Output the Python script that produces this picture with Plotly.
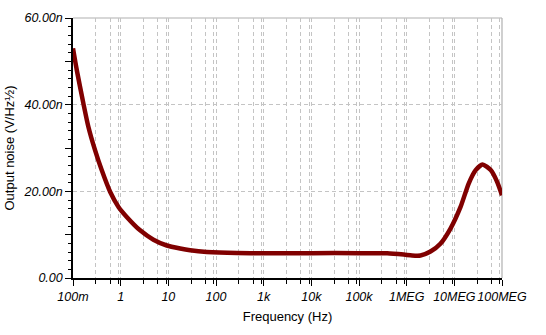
import plotly.graph_objects as go

# ---- data ----
freq_hz = [0.1, 0.12, 0.165, 0.21, 0.29, 0.40, 0.6, 0.9, 1.34, 2.56, 4.87, 9.3,
           17.7, 28.7, 64, 275, 1e3, 1e4, 1e5, 3.9e5, 8.7e5, 1.3e6, 1.95e6,
           3.16e6, 5.1e6, 8.3e6, 1.35e7, 2.0e7, 2.8e7, 3.9e7, 5.8e7, 7.9e7, 1e8]
noise_nv = [53.0, 48.0, 40.3, 34.9, 29.5, 24.9, 19.9, 16.4, 14.1, 11.0, 8.84, 7.5,
            6.8, 6.4, 6.0, 5.75, 5.74, 5.74, 5.74, 5.7, 5.4, 5.2, 5.2,
            6.1, 7.9, 11.4, 16.4, 21.8, 24.9, 26.2, 24.9, 22.2, 19.1]

x_tick_vals = [0.1, 1, 10, 100, 1e3, 1e4, 1e5, 1e6, 1e7, 1e8]
x_tick_text = ["100m", "1", "10", "100", "1k", "10k", "100k", "1MEG", "10MEG", "100MEG"]
y_tick_vals = [0, 10e-9, 20e-9, 30e-9, 40e-9, 50e-9, 60e-9]
y_tick_text = ["0.00", "", "20.00n", "", "40.00n", "", "60.00n"]
y_grid_vals = [20e-9, 40e-9]

noise = [v * 1e-9 for v in noise_nv]
x_minor = [m * d for d in [0.1, 1, 10, 100, 1e3, 1e4, 1e5, 1e6, 1e7] for m in (3, 6, 9)]

GRID = "#c4c4c4"
FONT = "Liberation Sans, Arial, sans-serif"

fig = go.Figure()
fig.add_trace(go.Scatter(x=freq_hz, y=noise, mode="lines",
                         line=dict(color="#800000", width=4.5, shape="spline", smoothing=0.6),
                         showlegend=False, hoverinfo="skip"))
# invisible trace for overlay axis
fig.add_trace(go.Scatter(x=[0.1], y=[0], yaxis="y2", mode="markers",
                         marker=dict(opacity=0), showlegend=False, hoverinfo="skip"))

fig.update_layout(
    width=546, height=335,
    margin=dict(l=73, r=44, t=18, b=57, autoexpand=False),
    paper_bgcolor="white", plot_bgcolor="white",
    font=dict(family=FONT, size=12, color="#000"),
    xaxis=dict(
        type="log", range=[-1, 8], automargin=False, tickangle=0,
        tickmode="array", tickvals=x_tick_vals, ticktext=x_tick_text,
        tickfont=dict(family=FONT, size=12.5, style="italic", color="#000"),
        ticks="outside", ticklen=6, tickwidth=1.3, tickcolor="#000",
        showline=True, linecolor="#000", linewidth=1.5,
        showgrid=True, gridcolor=GRID, griddash="4px,3px", gridwidth=1,
        minor=dict(tickmode="array", tickvals=x_minor, ticks="outside", ticklen=4,
                   tickcolor="#000", tickwidth=1, showgrid=True, gridcolor=GRID,
                   griddash="4px,3px", gridwidth=1),
        zeroline=False,
        title=dict(text="Frequency (Hz)", font=dict(family=FONT, size=13, color="#000"), standoff=9),
    ),
    yaxis=dict(
        range=[0, 60e-9], automargin=False,
        tickmode="array", tickvals=y_tick_vals, ticktext=y_tick_text,
        tickfont=dict(family=FONT, size=12.5, style="italic", color="#000"),
        ticks="outside", ticklen=6, tickwidth=1.3, tickcolor="#000",
        showline=True, linecolor="#000", linewidth=1.5,
        showgrid=False, zeroline=False,
        minor=dict(dtick=2e-9, tick0=0, ticks="outside", ticklen=3, tickcolor="#000",
                   tickwidth=1, showgrid=False),
        title=dict(text="Output noise (V/Hz½)", font=dict(family=FONT, size=13, color="#000"), standoff=6),
    ),
    yaxis2=dict(
        overlaying="y", range=[0, 60e-9], tickmode="array", tickvals=y_grid_vals,
        showticklabels=False, ticks="", showgrid=True, gridcolor=GRID,
        griddash="4px,3px", gridwidth=1, zeroline=False, showline=False,
    ),
)

# top and right borders of plot area
fig.add_shape(type="line", xref="paper", yref="paper", x0=0, x1=1, y0=1, y1=1,
              line=dict(color="#b0b0b0", width=1.2), layer="below")
fig.add_shape(type="line", xref="paper", yref="paper", x0=1, x1=1, y0=0, y1=1,
              line=dict(color="#b0b0b0", width=1.2), layer="below")

fig.write_html("out.html")
